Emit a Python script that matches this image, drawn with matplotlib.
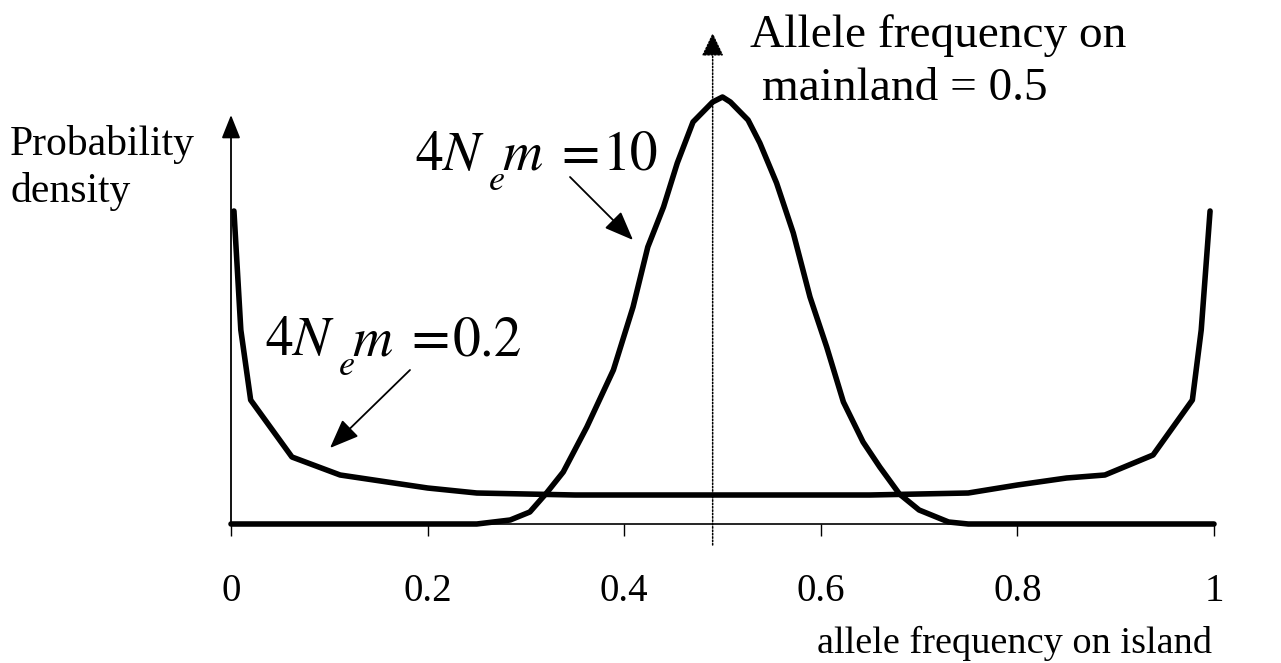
import matplotlib
matplotlib.use("Agg")
import matplotlib.pyplot as plt

# Island allele-frequency distributions under two migration rates
x_low = [0.003, 0.01, 0.02, 0.062, 0.111, 0.2, 0.25, 0.35, 0.5, 0.65, 0.75,
         0.8, 0.85, 0.889, 0.938, 0.978, 0.987, 0.996]
density_low = [3.13, 1.94, 1.24, 0.67, 0.49, 0.36, 0.31, 0.29, 0.29, 0.29, 0.31,
               0.39, 0.46, 0.49, 0.69, 1.24, 1.94, 3.13]

x_high = [0.0, 0.25, 0.284, 0.304, 0.321, 0.338, 0.362, 0.389, 0.409, 0.424,
          0.44, 0.454, 0.47, 0.49, 0.5, 0.508, 0.526, 0.538, 0.555, 0.572,
          0.589, 0.606, 0.623, 0.643, 0.66, 0.68, 0.70, 0.73, 0.75, 1.0]
density_high = [0, 0, 0.04, 0.12, 0.31, 0.52, 0.97, 1.54, 2.17, 2.77,
                3.17, 3.61, 4.02, 4.22, 4.27, 4.22, 4.04, 3.81, 3.41, 2.91,
                2.27, 1.77, 1.22, 0.82, 0.57, 0.30, 0.14, 0.02, 0, 0]

mainland_freq = 0.49
tick_values = [0, 0.2, 0.4, 0.6, 0.8, 1]
tick_labels = ["0", "0.2", "0.4", "0.6", "0.8", "1"]

migration_low = "0.2"
migration_high = "10"

plt.rcParams["font.family"] = ["Liberation Serif", "DejaVu Serif"]
plt.rcParams["mathtext.fontset"] = "stix"

W, H = 1281, 663
fig = plt.figure(figsize=(W / 100, H / 100), dpi=100)
ax = fig.add_axes([0, 0, 1, 1])
ax.set_xlim(-231 / 983, (W - 231) / 983)
ax.set_ylim(-1.39, 5.24)
ax.patch.set_visible(False)


def fx(px):
    return px / W


def fy(py):
    return 1 - py / H


# axes
for s in ["top", "right", "left"]:
    ax.spines[s].set_visible(False)
ax.spines["bottom"].set_position(("data", 0))
ax.spines["bottom"].set_bounds(0, 1)
ax.spines["bottom"].set_linewidth(1.2)
ax.set_yticks([])
ax.set_xticks(tick_values, labels=tick_labels)
ax.tick_params(axis="x", direction="out", length=8.5, width=1.0, pad=27,
               labelsize=28)

# vertical axis with arrow
ax.annotate("", xy=(0, 4.09), xytext=(0, 0),
            arrowprops=dict(arrowstyle="-|>,head_length=0.8,head_width=0.32",
                            mutation_scale=18, lw=1.3, color="black",
                            shrinkA=0, shrinkB=0))

# mainland frequency marker
ax.annotate("", xy=(mainland_freq, 4.91), xytext=(mainland_freq, -0.21),
            arrowprops=dict(arrowstyle="-|>,head_length=0.8,head_width=0.38",
                            mutation_scale=18, lw=1.1, color="black",
                            linestyle=(0, (1, 1.2)), shrinkA=0, shrinkB=0))

# curves
ax.plot(x_high, density_high, color="black", lw=4.0, solid_capstyle="round",
        solid_joinstyle="round", zorder=5)
ax.plot(x_low, density_low, color="black", lw=4.0, solid_capstyle="round",
        solid_joinstyle="round", zorder=5)

# labels
fig.text(fx(10), fy(155), "Probability", fontsize=30, ha="left", va="baseline")
fig.text(fx(10), fy(202), "density", fontsize=30, ha="left", va="baseline")
fig.text(fx(750), fy(47), "Allele frequency on", fontsize=34,
         ha="left", va="baseline")
fig.text(fx(762), fy(100), "mainland = 0.5", fontsize=34,
         ha="left", va="baseline")
fig.text(fx(1212), fy(653), "allele frequency on island", fontsize=27.5,
         ha="right", va="baseline")


def equation(x0, base, value):
    """Typeset 4N_e m = value in equation-editor style spacing."""
    fs = 40
    fig.text(fx(x0), fy(base), r"$4N$", fontsize=fs, va="baseline")
    fig.text(fx(x0 + 73), fy(base + 20), r"$e$", fontsize=26, va="baseline")
    fig.text(fx(x0 + 87), fy(base), r"$m$", fontsize=fs, va="baseline")
    fig.text(fx(x0 + 146), fy(base), "=", fontsize=fs, va="baseline",
             family="STIXGeneral")
    fig.text(fx(x0 + 188), fy(base), value, fontsize=fs, va="baseline",
             family="STIXGeneral")


equation(415, 170, migration_high)
equation(265, 355, migration_low)

# pointer arrows from labels to curves
arrow_kw = dict(arrowstyle="-|>,head_length=1.0,head_width=0.4",
                mutation_scale=18, lw=1.3, color="black", shrinkA=0, shrinkB=0)
ax.annotate("", xy=((633 - 231) / 983, (524 - 240) / 100),
            xytext=((570 - 231) / 983, (524 - 177) / 100), arrowprops=arrow_kw)
ax.annotate("", xy=((330 - 231) / 983, (524 - 448) / 100),
            xytext=((410 - 231) / 983, (524 - 370) / 100), arrowprops=arrow_kw)

fig.savefig("out.png", dpi=100)
